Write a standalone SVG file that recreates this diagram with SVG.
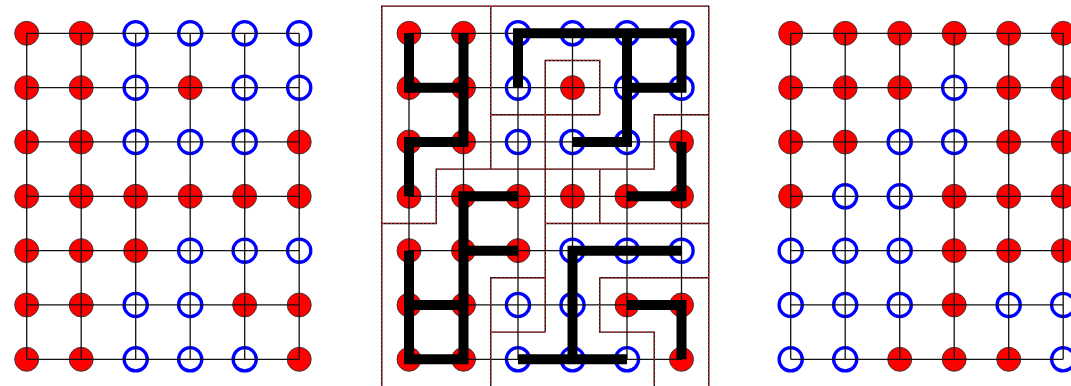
<svg xmlns="http://www.w3.org/2000/svg" xmlns:xlink="http://www.w3.org/1999/xlink" width="1071" height="386" viewBox="0 0 1071 386">
<style>
.r{fill:#ff0000;stroke:#333;stroke-width:0.9}
.b{fill:none;stroke:#0000ff;stroke-width:3.3}
.grid{fill:none;stroke:#111;stroke-width:1.3}
.thick{fill:none;stroke:#000;stroke-width:10;stroke-linecap:butt;stroke-linejoin:miter}
.bk{fill:none;stroke:#111;stroke-width:1.4}
.rd{fill:none;stroke:#ff2020;stroke-width:1.2;stroke-dasharray:1.5 2.5}
</style>
<defs>
<path id="gridpath" d="M0 0H272.5M0 54.33H272.5M0 108.67H272.5M0 163H272.5M0 217.33H272.5M0 271.67H272.5M0 326H272.5M0 0V326M54.5 0V326M109 0V326M163.5 0V326M218 0V326M272.5 0V326"/>
<path id="bnd" d="M-27.25 360V-27.17H299.75V360 M81.75 -27.17V135.83H27.25V190.17H-27.25 M81.75 135.83H245.25V81.5H299.75 M81.75 81.5H190.75 M136.25 81.5V27.17H190.75V81.5 M136.25 81.5V298.83 M190.75 135.83V190.17 M136.25 190.17H299.75 M136.25 244.5H81.75V360 M81.75 298.83H136.25 M299.75 244.5H190.75V298.83H245.25V360"/>
</defs>

<!-- Left panel -->
<g id="panel-left" transform="translate(26.7,33.3)">
<g id="left-nodes">
<circle id="L00" class="r" cx="0" cy="0" r="12"/><circle id="L10" class="r" cx="54.5" cy="0" r="12"/><circle id="L20" class="b" cx="109" cy="0" r="11.6"/><circle id="L30" class="b" cx="163.5" cy="0" r="11.6"/><circle id="L40" class="b" cx="218" cy="0" r="11.6"/><circle id="L50" class="b" cx="272.5" cy="0" r="11.6"/>
<circle id="L01" class="r" cx="0" cy="54.33" r="12"/><circle id="L11" class="r" cx="54.5" cy="54.33" r="12"/><circle id="L21" class="b" cx="109" cy="54.33" r="11.6"/><circle id="L31" class="r" cx="163.5" cy="54.33" r="12"/><circle id="L41" class="b" cx="218" cy="54.33" r="11.6"/><circle id="L51" class="b" cx="272.5" cy="54.33" r="11.6"/>
<circle id="L02" class="r" cx="0" cy="108.67" r="12"/><circle id="L12" class="r" cx="54.5" cy="108.67" r="12"/><circle id="L22" class="b" cx="109" cy="108.67" r="11.6"/><circle id="L32" class="b" cx="163.5" cy="108.67" r="11.6"/><circle id="L42" class="b" cx="218" cy="108.67" r="11.6"/><circle id="L52" class="r" cx="272.5" cy="108.67" r="12"/>
<circle id="L03" class="r" cx="0" cy="163" r="12"/><circle id="L13" class="r" cx="54.5" cy="163" r="12"/><circle id="L23" class="r" cx="109" cy="163" r="12"/><circle id="L33" class="r" cx="163.5" cy="163" r="12"/><circle id="L43" class="r" cx="218" cy="163" r="12"/><circle id="L53" class="r" cx="272.5" cy="163" r="12"/>
<circle id="L04" class="r" cx="0" cy="217.33" r="12"/><circle id="L14" class="r" cx="54.5" cy="217.33" r="12"/><circle id="L24" class="r" cx="109" cy="217.33" r="12"/><circle id="L34" class="b" cx="163.5" cy="217.33" r="11.6"/><circle id="L44" class="b" cx="218" cy="217.33" r="11.6"/><circle id="L54" class="b" cx="272.5" cy="217.33" r="11.6"/>
<circle id="L05" class="r" cx="0" cy="271.67" r="12"/><circle id="L15" class="r" cx="54.5" cy="271.67" r="12"/><circle id="L25" class="b" cx="109" cy="271.67" r="11.6"/><circle id="L35" class="b" cx="163.5" cy="271.67" r="11.6"/><circle id="L45" class="r" cx="218" cy="271.67" r="12"/><circle id="L55" class="r" cx="272.5" cy="271.67" r="12"/>
<circle id="L06" class="r" cx="0" cy="326" r="12"/><circle id="L16" class="r" cx="54.5" cy="326" r="12"/><circle id="L26" class="b" cx="109" cy="326" r="11.6"/><circle id="L36" class="b" cx="163.5" cy="326" r="11.6"/><circle id="L46" class="b" cx="218" cy="326" r="11.6"/><circle id="L56" class="r" cx="272.5" cy="326" r="12"/>
</g>
<g id="left-connectors"><use xlink:href="#gridpath" class="grid"/></g>
</g>

<!-- Middle panel -->
<g id="panel-middle" transform="translate(409,33.3)">
<g id="mid-nodes">
<circle id="M00" class="r" cx="0" cy="0" r="12"/><circle id="M10" class="r" cx="54.5" cy="0" r="12"/><circle id="M20" class="b" cx="109" cy="0" r="11.6"/><circle id="M30" class="b" cx="163.5" cy="0" r="11.6"/><circle id="M40" class="b" cx="218" cy="0" r="11.6"/><circle id="M50" class="b" cx="272.5" cy="0" r="11.6"/>
<circle id="M01" class="r" cx="0" cy="54.33" r="12"/><circle id="M11" class="r" cx="54.5" cy="54.33" r="12"/><circle id="M21" class="b" cx="109" cy="54.33" r="11.6"/><circle id="M31" class="r" cx="163.5" cy="54.33" r="12"/><circle id="M41" class="b" cx="218" cy="54.33" r="11.6"/><circle id="M51" class="b" cx="272.5" cy="54.33" r="11.6"/>
<circle id="M02" class="r" cx="0" cy="108.67" r="12"/><circle id="M12" class="r" cx="54.5" cy="108.67" r="12"/><circle id="M22" class="b" cx="109" cy="108.67" r="11.6"/><circle id="M32" class="b" cx="163.5" cy="108.67" r="11.6"/><circle id="M42" class="b" cx="218" cy="108.67" r="11.6"/><circle id="M52" class="r" cx="272.5" cy="108.67" r="12"/>
<circle id="M03" class="r" cx="0" cy="163" r="12"/><circle id="M13" class="r" cx="54.5" cy="163" r="12"/><circle id="M23" class="r" cx="109" cy="163" r="12"/><circle id="M33" class="r" cx="163.5" cy="163" r="12"/><circle id="M43" class="r" cx="218" cy="163" r="12"/><circle id="M53" class="r" cx="272.5" cy="163" r="12"/>
<circle id="M04" class="r" cx="0" cy="217.33" r="12"/><circle id="M14" class="r" cx="54.5" cy="217.33" r="12"/><circle id="M24" class="r" cx="109" cy="217.33" r="12"/><circle id="M34" class="b" cx="163.5" cy="217.33" r="11.6"/><circle id="M44" class="b" cx="218" cy="217.33" r="11.6"/><circle id="M54" class="b" cx="272.5" cy="217.33" r="11.6"/>
<circle id="M05" class="r" cx="0" cy="271.67" r="12"/><circle id="M15" class="r" cx="54.5" cy="271.67" r="12"/><circle id="M25" class="b" cx="109" cy="271.67" r="11.6"/><circle id="M35" class="b" cx="163.5" cy="271.67" r="11.6"/><circle id="M45" class="r" cx="218" cy="271.67" r="12"/><circle id="M55" class="r" cx="272.5" cy="271.67" r="12"/>
<circle id="M06" class="r" cx="0" cy="326" r="12"/><circle id="M16" class="r" cx="54.5" cy="326" r="12"/><circle id="M26" class="b" cx="109" cy="326" r="11.6"/><circle id="M36" class="b" cx="163.5" cy="326" r="11.6"/><circle id="M46" class="b" cx="218" cy="326" r="11.6"/><circle id="M56" class="r" cx="272.5" cy="326" r="12"/>
</g>
<g id="mid-connectors">
<use xlink:href="#gridpath" class="grid"/>
<g id="mid-boundaries">
<use xlink:href="#bnd" class="bk"/>
<use xlink:href="#bnd" class="rd"/>
</g>
<g id="mid-thick-edges" class="thick">
<path d="M0 0V54.33H54.5M54.5 0V108.67H0V163"/>
<path d="M109 54.33V0H272.5V54.33H218M218 0V108.67H163.5"/>
<path d="M272.5 108.67V163H218"/>
<path d="M109 163H54.5V326H0V217.33M54.5 217.33H109M0 271.67H54.5"/>
<path d="M272.5 217.33H163.5V326M109 326H218"/>
<path d="M218 271.67H272.5V326"/>
</g>
</g>
</g>

<!-- Right panel -->
<g id="panel-right" transform="translate(790.7,33.3)">
<g id="right-nodes">
<circle id="R00" class="r" cx="0" cy="0" r="12"/><circle id="R10" class="r" cx="54.5" cy="0" r="12"/><circle id="R20" class="r" cx="109" cy="0" r="12"/><circle id="R30" class="r" cx="163.5" cy="0" r="12"/><circle id="R40" class="r" cx="218" cy="0" r="12"/><circle id="R50" class="r" cx="272.5" cy="0" r="12"/>
<circle id="R01" class="r" cx="0" cy="54.33" r="12"/><circle id="R11" class="r" cx="54.5" cy="54.33" r="12"/><circle id="R21" class="r" cx="109" cy="54.33" r="12"/><circle id="R31" class="b" cx="163.5" cy="54.33" r="11.6"/><circle id="R41" class="r" cx="218" cy="54.33" r="12"/><circle id="R51" class="r" cx="272.5" cy="54.33" r="12"/>
<circle id="R02" class="r" cx="0" cy="108.67" r="12"/><circle id="R12" class="r" cx="54.5" cy="108.67" r="12"/><circle id="R22" class="b" cx="109" cy="108.67" r="11.6"/><circle id="R32" class="b" cx="163.5" cy="108.67" r="11.6"/><circle id="R42" class="r" cx="218" cy="108.67" r="12"/><circle id="R52" class="r" cx="272.5" cy="108.67" r="12"/>
<circle id="R03" class="r" cx="0" cy="163" r="12"/><circle id="R13" class="b" cx="54.5" cy="163" r="11.6"/><circle id="R23" class="b" cx="109" cy="163" r="11.6"/><circle id="R33" class="r" cx="163.5" cy="163" r="12"/><circle id="R43" class="r" cx="218" cy="163" r="12"/><circle id="R53" class="r" cx="272.5" cy="163" r="12"/>
<circle id="R04" class="b" cx="0" cy="217.33" r="11.6"/><circle id="R14" class="b" cx="54.5" cy="217.33" r="11.6"/><circle id="R24" class="b" cx="109" cy="217.33" r="11.6"/><circle id="R34" class="r" cx="163.5" cy="217.33" r="12"/><circle id="R44" class="r" cx="218" cy="217.33" r="12"/><circle id="R54" class="r" cx="272.5" cy="217.33" r="12"/>
<circle id="R05" class="b" cx="0" cy="271.67" r="11.6"/><circle id="R15" class="b" cx="54.5" cy="271.67" r="11.6"/><circle id="R25" class="b" cx="109" cy="271.67" r="11.6"/><circle id="R35" class="r" cx="163.5" cy="271.67" r="12"/><circle id="R45" class="b" cx="218" cy="271.67" r="11.6"/><circle id="R55" class="b" cx="272.5" cy="271.67" r="11.6"/>
<circle id="R06" class="b" cx="0" cy="326" r="11.6"/><circle id="R16" class="b" cx="54.5" cy="326" r="11.6"/><circle id="R26" class="r" cx="109" cy="326" r="12"/><circle id="R36" class="r" cx="163.5" cy="326" r="12"/><circle id="R46" class="r" cx="218" cy="326" r="12"/><circle id="R56" class="b" cx="272.5" cy="326" r="11.6"/>
</g>
<g id="right-connectors"><use xlink:href="#gridpath" class="grid"/></g>
</g>
</svg>
